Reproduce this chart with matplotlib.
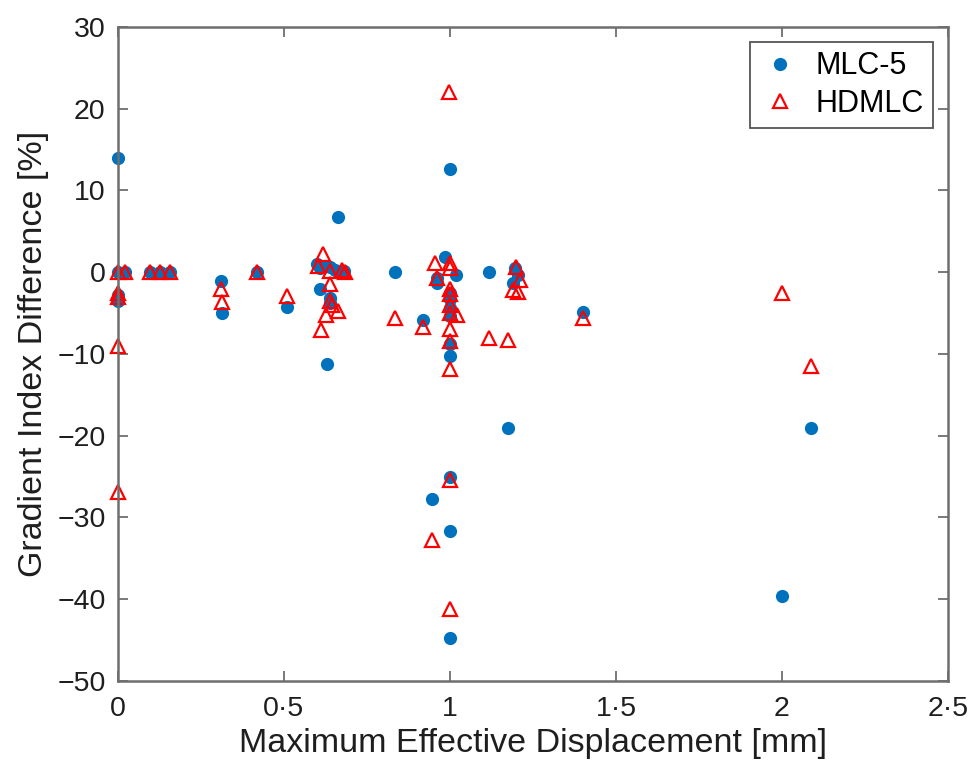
import numpy as np
import matplotlib
matplotlib.use('Agg')
import matplotlib.pyplot as plt

# ---------------- data ---------------- #
mlc5_x = [0, 0, 0.02, 0, 0,
          0.096, 0.127, 0.157,
          0.31, 0.313, 0.42, 0.508,
          0.60, 0.61, 0.625, 0.64, 0.655, 0.68,
          0.608, 0.64, 0.64, 0.629, 0.664,
          0.834, 0.92, 0.945, 0.96, 0.96, 0.985,
          1.0, 1.0, 1.0, 1.0, 1.0, 1.0, 1.0, 1.0, 1.0, 1.0,
          1.018, 1.118, 1.175, 1.196, 1.206, 1.19,
          1.40, 2.0, 2.086]
mlc5_y = [14.0, 0, 0, -2.8, -3.5,
          0, 0, 0,
          -1.1, -5.0, 0, -4.3,
          1.0, 0.5, 0.8, 0.6, 0.3, 0.2,
          -2.1, -3.1, -3.8, -11.2, 6.8,
          0, -5.8, -27.7, -0.7, -1.3, 1.9,
          12.6, -2.5, -3.3, -4.4, -5.4, -8.8, -10.3, -25.0, -31.7, -44.8,
          -0.3, 0, -19.0, 0.5, -0.3, -1.3,
          -4.85, -39.6, -19.0]

hdmlc_x = [0, 0.02, 0, 0, 0, 0,
           0.096, 0.127, 0.157,
           0.31, 0.313, 0.42, 0.508,
           0.611, 0.618, 0.602, 0.639, 0.674, 0.684,
           0.64, 0.64, 0.645, 0.628, 0.664,
           0.834, 0.92, 0.945, 0.955, 0.96,
           0.998, 1.0, 1.0, 1.0, 1.0, 1.0, 1.0, 1.0, 1.0, 1.0, 1.0, 1.0,
           1.02, 1.117, 1.175,
           1.2, 1.21, 1.19, 1.206,
           1.40, 2.0, 2.086]
hdmlc_y = [0, 0, -2.5, -3.0, -9.0, -26.9,
           0, 0, 0,
           -2.0, -3.6, 0, -2.9,
           -7.1, 2.2, 0.7, 0.1, 0.3, 0,
           -1.5, -3.5, -4.0, -5.2, -4.8,
           -5.6, -6.7, -32.7, 1.1, -0.7,
           22.1, 1.1, 0.5, -2.1, -2.7, -4.0, -5.0, -7.0, -8.4, -11.8, -25.4, -41.2,
           -5.2, -8.1, -8.3,
           0.6, -0.9, -2.2, -2.4,
           -5.6, -2.5, -11.5]

xticks = [0, 0.5, 1, 1.5, 2, 2.5]
xticklabels = ['0', '0\u00b75', '1', '1\u00b75', '2', '2\u00b75']
yticks = [30, 20, 10, 0, -10, -20, -30, -40, -50]

# ---------------- plot ---------------- #
plt.rcParams['font.family'] = ['Liberation Sans', 'DejaVu Sans']

fig = plt.figure(figsize=(9.71, 7.70), dpi=100)
ax = fig.add_axes([0.1215, 0.1156, 0.8548, 0.8494])

ax.plot(mlc5_x, mlc5_y, 'o', color='#0072BD', markersize=9.5,
        markeredgewidth=0, label='MLC-5', clip_on=False)
ax.plot(hdmlc_x, hdmlc_y, '^', color='#FF0000', markersize=10.5,
        markerfacecolor='none', markeredgewidth=1.6, label='HDMLC',
        clip_on=False)

ax.set_xlim(0, 2.5)
ax.set_ylim(-50, 30)
ax.set_xticks(xticks)
ax.set_xticklabels(xticklabels)
ax.set_yticks(yticks)

for s in ax.spines.values():
    s.set_color('#6e6e6e')
    s.set_linewidth(1.8)
ax.tick_params(direction='in', top=True, right=True, length=7, width=1.3,
               color='#6e6e6e', labelsize=20.5, labelcolor='#1e1e1e')
ax.tick_params(axis='x', pad=11)
ax.tick_params(axis='y', pad=9)

ax.set_xlabel('Maximum Effective Displacement [mm]', fontsize=24.5,
              color='#1e1e1e', labelpad=4)
ax.set_ylabel('Gradient Index Difference [%]', fontsize=24.5,
              color='#1e1e1e', labelpad=6)

leg = ax.legend(loc='upper right', fontsize=22, fancybox=False,
                edgecolor='#555555', framealpha=1, borderpad=0.3,
                handlelength=1.4, handletextpad=0.45,
                borderaxespad=0.5, labelspacing=0.25)
leg.get_frame().set_linewidth(1.3)

fig.savefig('out.png', dpi=100)
